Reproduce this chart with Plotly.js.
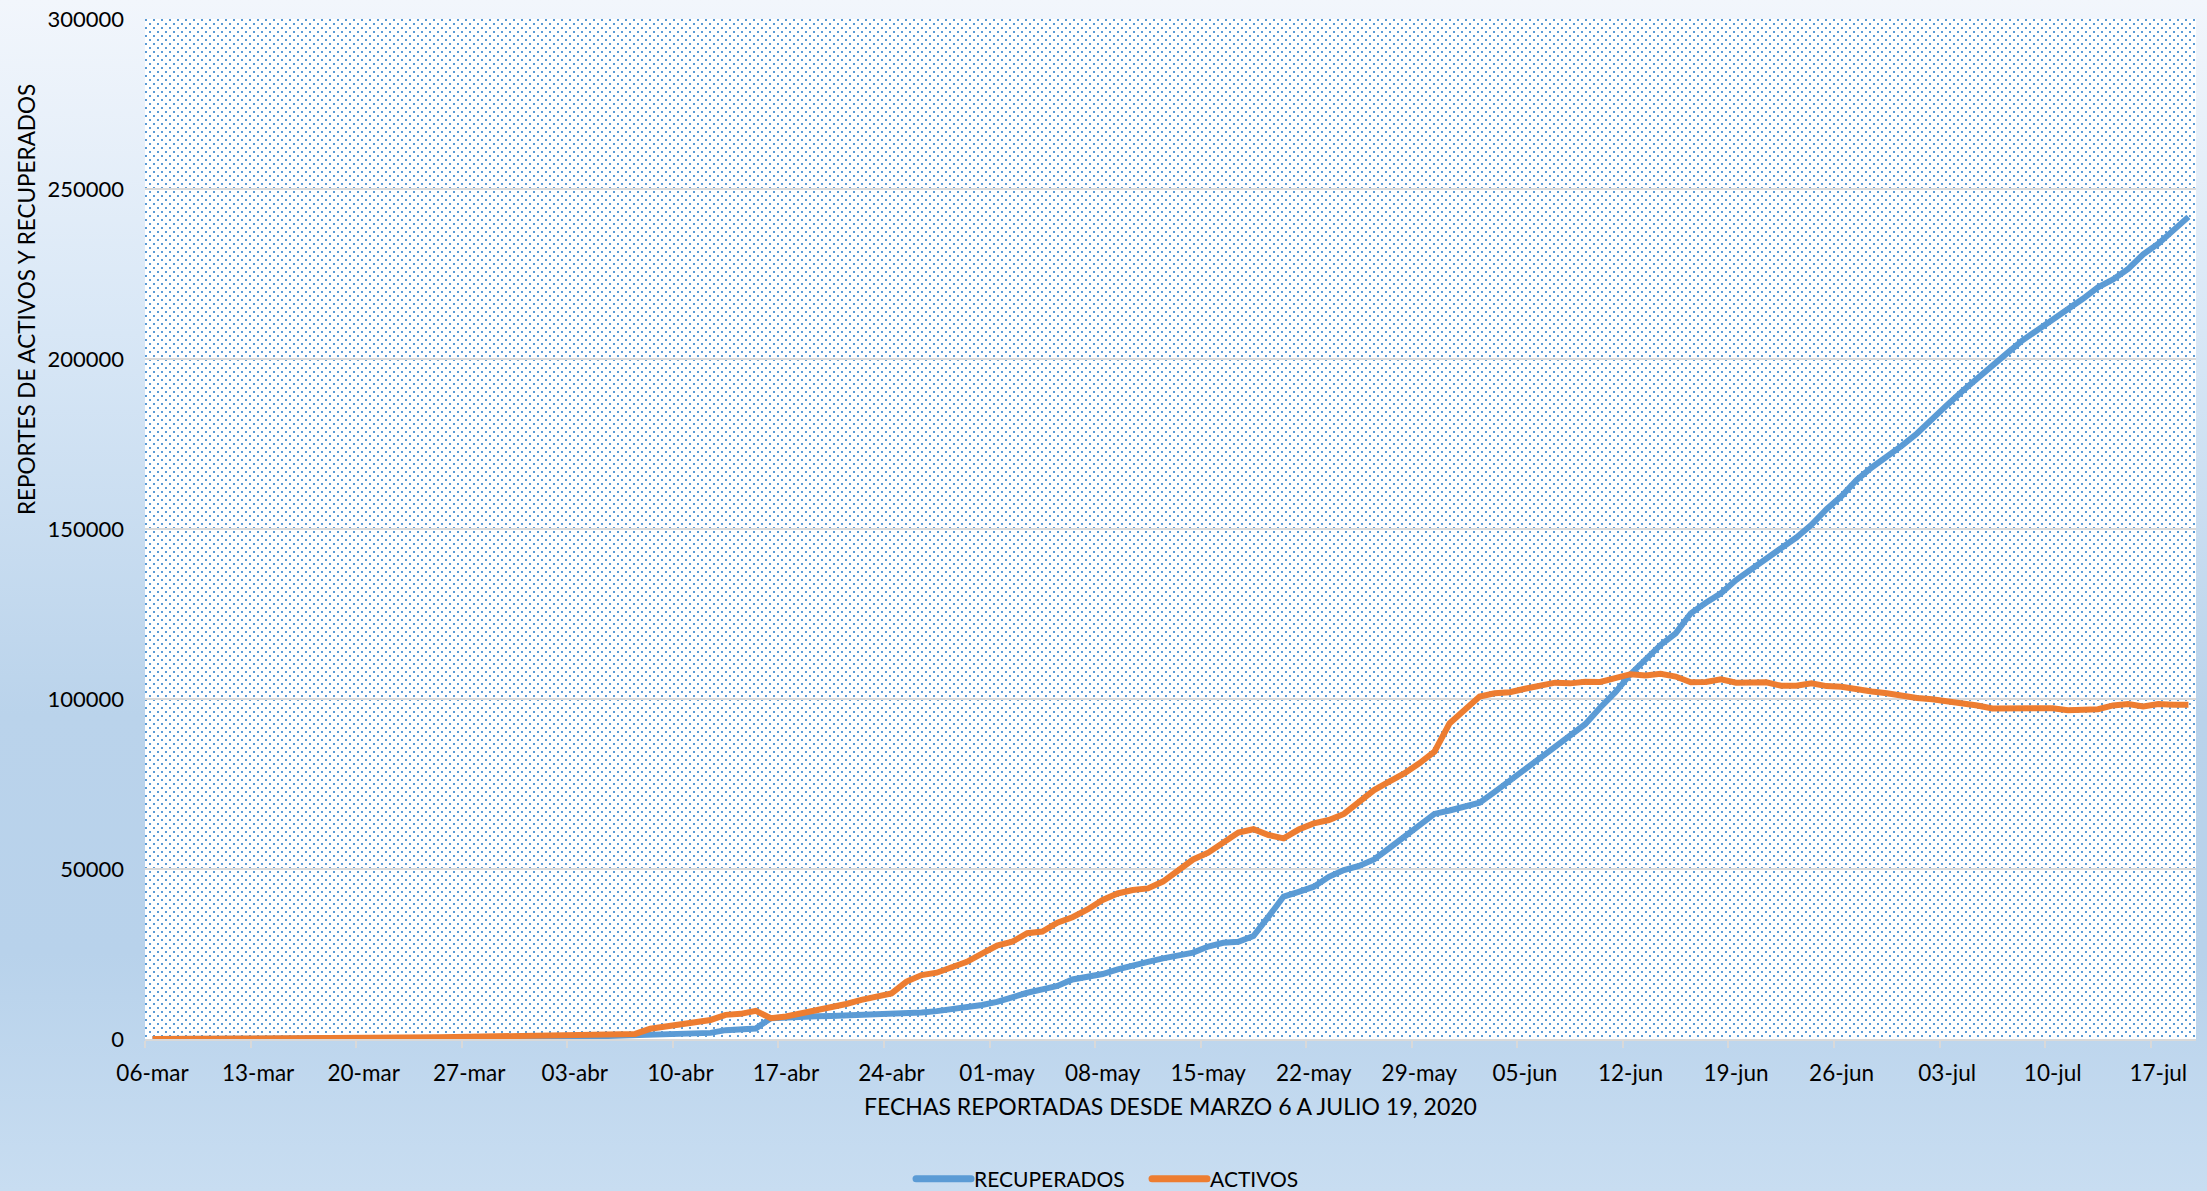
<!DOCTYPE html>
<html>
<head>
<meta charset="utf-8">
<script src="https://cdn.plot.ly/plotly-3.0.1.min.js"></script>
<style>
  html, body { margin: 0; padding: 0; }
  #wrap {
    position: relative; width: 2207px; height: 1191px; overflow: hidden;
    background: linear-gradient(180deg, #f2f6fc 0%, #d8e7f6 28%, #bad3eb 60%, #b8d2eb 80%, #c8ddf1 100%);
  }
  #pattern {
    position: absolute; left: 145px; top: 19px; width: 2051px; height: 1020px;
    background-color: #ffffff;
    background-image: url("data:image/svg+xml;utf8,<svg xmlns='http://www.w3.org/2000/svg' width='8' height='8'><rect x='0' y='0' width='2' height='2' fill='%235b9bd5'/><rect x='4' y='4' width='2' height='2' fill='%235b9bd5'/></svg>");
    background-repeat: repeat;
  }
  #chart { position: absolute; left: 0; top: 0; width: 2207px; height: 1191px; }
</style>
</head>
<body>
<div id="wrap">
  <div id="pattern"></div>
  <div id="chart"></div>
</div>
<script>
// ---- Data ----
const fechaInicio = '2020-03-06';

const recuperados = [
  0,0,0,0,0,0,0,0,0,0,
  0,0,1,1,1,1,1,1,1,1,
  16,16,53,53,53,350,400,450,600,800,
  950,1050,1200,1450,1550,1650,1750,1800,2600,2900,
  3100,6100,6400,6600,6700,6800,6900,7000,7100,7300,
  7500,7800,8200,8700,9200,10000,10900,12300,13600,14600,
  15600,17500,18300,19100,20500,21800,22700,23700,24700,25400,
  27200,28300,28600,30300,36000,41900,43300,44800,47700,49700,
  50900,52800,56100,59500,62900,66200,67200,68300,69500,72700,
  76200,79300,82600,86000,89400,92600,97500,102000,107300,111700,
  115900,119300,125200,128300,131100,135000,138100,141100,144300,147500,
  151200,155800,159700,164400,168100,171100,174500,178100,182600,186500,
  190500,194400,198100,201800,205500,208500,211500,214700,217700,221100,
  223400,226500,230800,233900,237800,241800
];

const activos = [
  1,6,7,9,11,17,22,38,43,71,
  86,117,145,234,234,318,363,395,416,480,
  560,620,640,820,900,700,720,780,900,1000,
  1150,1300,1500,3000,3600,4100,4800,5600,7100,7400,
  8300,6100,6600,7500,8500,9000,10300,11500,12600,13400,
  16900,18800,19500,21300,22700,25100,27500,28600,31100,31600,
  34200,35800,38100,40900,42800,43800,44300,46300,49500,52800,
  54800,57500,60700,61700,60000,59000,61600,63400,64400,66200,
  69500,73200,75700,78100,81100,84500,92800,97000,100700,101700,
  102000,103000,103800,104800,104600,105100,105000,106000,107300,106900,
  107400,106600,104900,105000,105800,104800,104800,104900,103900,103900,
  104600,103800,103600,102800,102200,101700,100900,100300,99900,99400,
  99000,98100,97200,97200,97000,97200,97300,96700,97000,97000,
  98100,98500,97800,98500,98300,98300
];

const etiquetasX = ['06-mar','13-mar','20-mar','27-mar','03-abr','10-abr','17-abr','24-abr',
  '01-may','08-may','15-may','22-may','29-may','05-jun','12-jun','19-jun','26-jun',
  '03-jul','10-jul','17-jul'];

// daily categories (one per reported value)
const fechas = recuperados.map((_, i) => {
  const d = new Date(fechaInicio + 'T00:00:00Z');
  d.setUTCDate(d.getUTCDate() + i);
  return d.toISOString().slice(0, 10);
});
const fechasTicks = fechas.filter((_, i) => i % 7 === 0);

const FONT = 'Lato, "Open Sans", "Liberation Sans", sans-serif';
const DAY = 86400000;

const traces = [
  { x: fechas, y: recuperados, name: 'RECUPERADOS', type: 'scatter', mode: 'lines',
    line: { color: '#5b9bd5', width: 6, shape: 'linear' } },
  { x: fechas, y: activos, name: 'ACTIVOS', type: 'scatter', mode: 'lines',
    line: { color: '#ed7d31', width: 6, shape: 'linear' } }
];

const layout = {
  width: 2207, height: 1191,
  margin: { l: 145, r: 11, t: 19, b: 152, pad: 0 },
  paper_bgcolor: 'rgba(0,0,0,0)',
  plot_bgcolor: 'rgba(0,0,0,0)',
  font: { family: FONT, color: '#000000', size: 22 },
  showlegend: true,
  legend: {
    orientation: 'h', xref: 'container', yref: 'container',
    x: 0.4128, xanchor: 'left', y: 0.010, yanchor: 'middle',
    font: { family: FONT, size: 21, color: '#000000' },
    bgcolor: 'rgba(0,0,0,0)', itemwidth: 40,
    entrywidth: 181, entrywidthmode: 'pixels'
  },
  xaxis: {
    type: 'date',
    range: ['2020-03-05 12:00', '2020-07-19 12:00'],
    tickmode: 'array', tickvals: fechasTicks, ticktext: etiquetasX,
    ticks: '', ticklabelstandoff: 13,
    tickfont: { family: FONT, size: 22.5, color: '#000000' },
    showgrid: false, zeroline: false,
    showline: true, linecolor: '#d9d9d9', linewidth: 2,
    minor: { tickmode: 'linear', tick0: '2020-03-05 12:00', dtick: 7 * DAY,
             ticks: 'outside', ticklen: 7, tickwidth: 2, tickcolor: '#d9d9d9', showgrid: false },
    title: { text: 'FECHAS REPORTADAS DESDE MARZO 6 A JULIO 19, 2020',
             font: { family: FONT, size: 23, color: '#000000' }, standoff: 14 }
  },
  yaxis: {
    range: [0, 300000], tickmode: 'linear', tick0: 0, dtick: 50000,
    tickformat: 'd', ticks: '', ticklabelstandoff: 20,
    tickfont: { family: FONT, size: 22, color: '#000000' },
    showgrid: true, gridcolor: '#d9d9d9', gridwidth: 2,
    zeroline: false, showline: false
  },
  annotations: [
    { text: 'REPORTES DE ACTIVOS Y RECUPERADOS', xref: 'paper', yref: 'paper',
      x: -0.058, y: 0.7245, xanchor: 'center', yanchor: 'middle', textangle: -90,
      showarrow: false, font: { family: FONT, size: 22.5, color: '#000000' } }
  ]
};

Plotly.newPlot('chart', traces, layout, { displayModeBar: false, staticPlot: true }).then(() => {
  // longer, round-capped legend line samples like the reference
  document.querySelectorAll('#chart .legend .legendlines path').forEach(p => {
    p.setAttribute('d', 'M5,0h55');
    p.style.strokeLinecap = 'round';
    p.style.strokeWidth = '7px';
  });
  document.querySelectorAll('#chart .legend text.legendtext').forEach(t => {
    t.setAttribute('x', '63');
  });
});
</script>
</body>
</html>
